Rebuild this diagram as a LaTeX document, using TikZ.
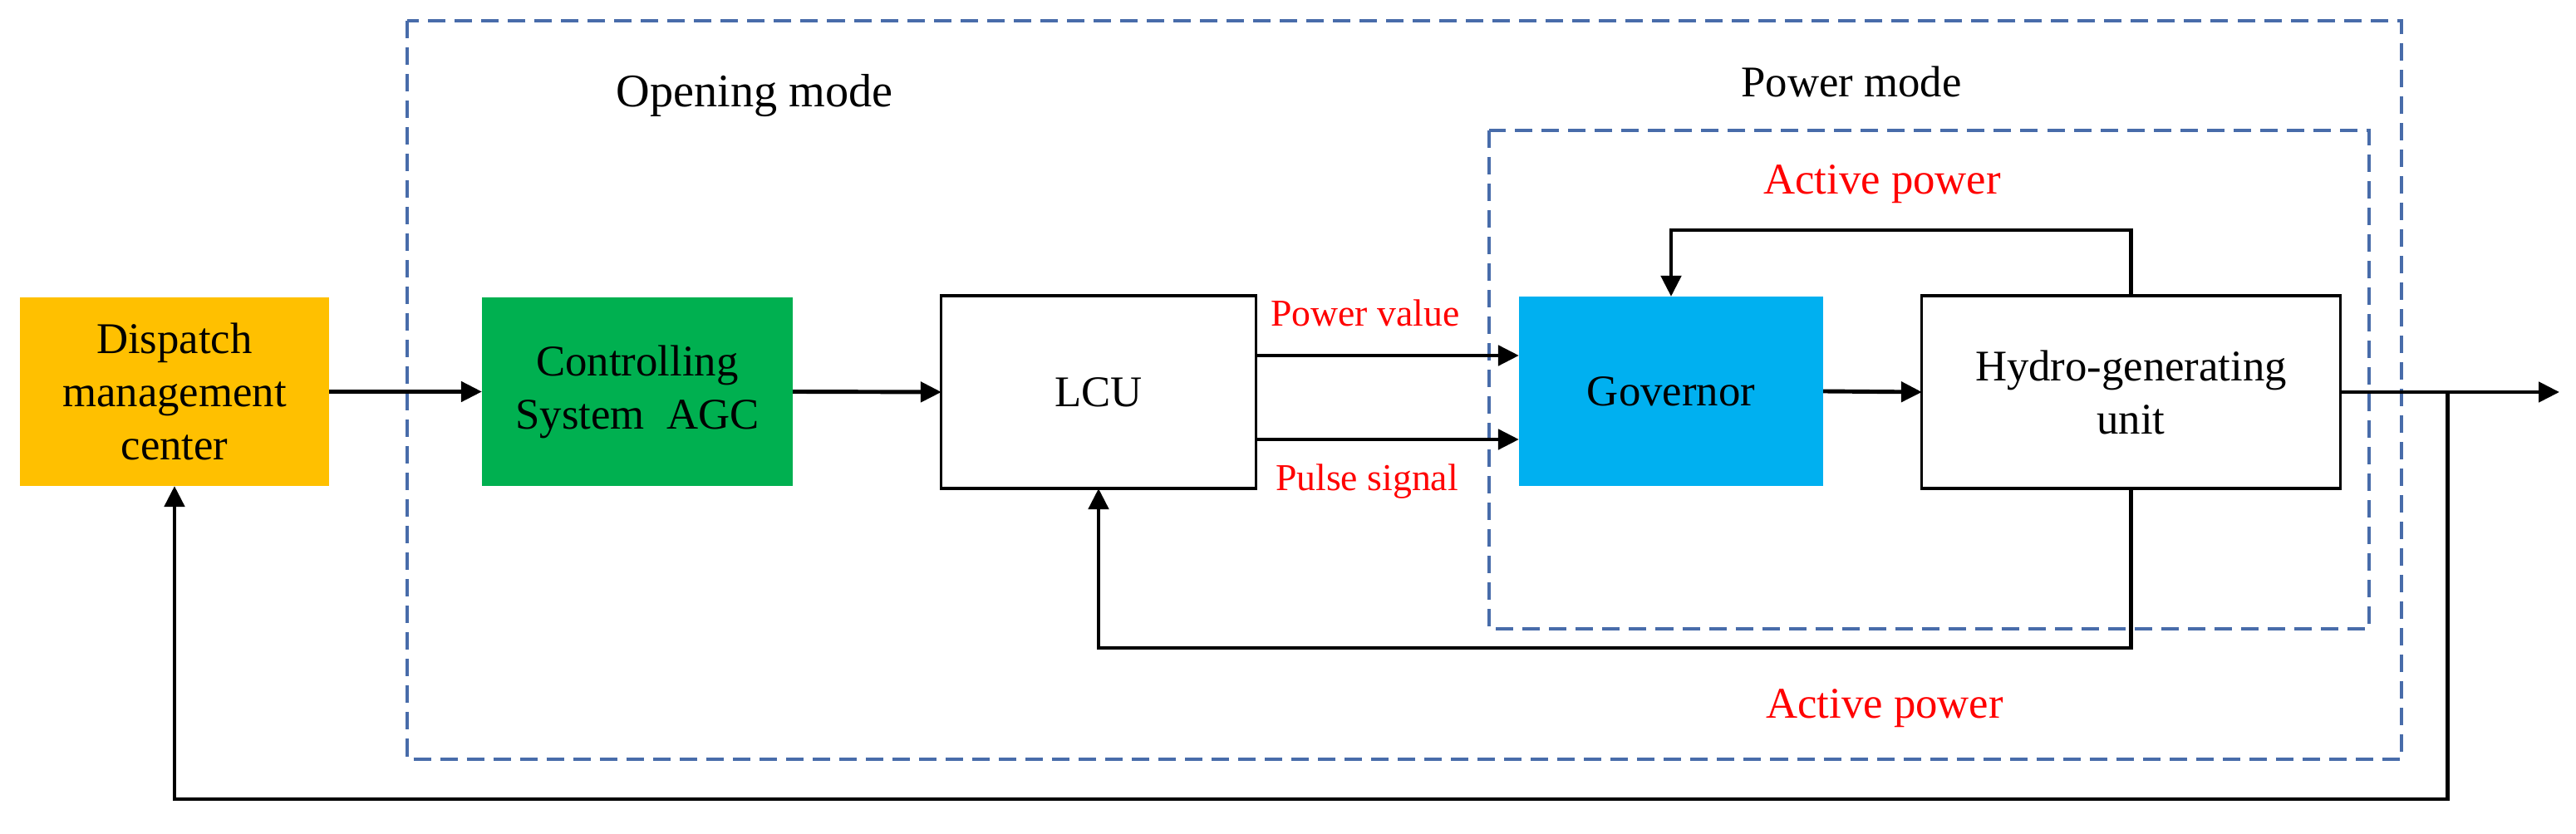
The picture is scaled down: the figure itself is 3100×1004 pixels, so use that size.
\documentclass[tikz,border=0pt]{standalone}
\usepackage{fontspec}
\setmainfont{Liberation Serif}
\usetikzlibrary{arrows.meta,calc}
\definecolor{dispatchc}{RGB}{255,192,0}
\definecolor{agcc}{RGB}{0,176,80}
\definecolor{govc}{RGB}{0,176,240}
\definecolor{dashblue}{RGB}{72,108,170}
\definecolor{redlab}{RGB}{255,0,0}
\tikzset{
  blk/.style={inner sep=0pt, outer sep=0pt, align=center, font=\fontsize{15}{18.2}\selectfont},
  wbox/.style={blk, draw=black, line width=0.9pt, fill=white},
  arr/.style={line width=1.4pt, -{Triangle[length=2.5mm,width=2.4mm]}},
  dbox/.style={draw=dashblue, line width=0.9pt, dash pattern=on 2.1mm off 1.1mm},
  redtxt/.style={text=redlab, inner sep=0pt},
  blktxt/.style={inner sep=0pt}
}
\begin{document}
\begin{tikzpicture}[x=0.01cm,y=-0.01cm]
\useasboundingbox (0,0) rectangle (3100,1004);
% dashed regions
\draw[dbox] (490,25) rectangle (2890,914);
\draw[dbox] (1792,157) rectangle (2851,757);
% blocks
\node[blk, fill=dispatchc, minimum width=3.72cm, minimum height=2.27cm] (dmc) at (210,471.5) {Dispatch\\management\\center};
\node[blk, fill=agcc, minimum width=3.74cm, minimum height=2.27cm] (agc) at (767,471.5) {Controlling\\System~~AGC};
\node[wbox, minimum width=3.78cm, minimum height=2.32cm] (lcu) at (1322,472) {LCU};
\node[blk, fill=govc, minimum width=3.66cm, minimum height=2.28cm] (gov) at (2011,471) {Governor};
\node[wbox, minimum width=5.03cm, minimum height=2.32cm] (hyd) at (2564.5,472) {Hydro-generating\\unit};
% coordinates
\coordinate (pv) at (0,428);
\coordinate (ps) at (0,529);
\coordinate (out) at (3080,472);
\coordinate (br) at (2945,472);
\coordinate (ytop) at (0,277);
\coordinate (ymid) at (0,780);
\coordinate (ybot) at (0,962);
% connectors
\draw[arr] (dmc.east) -- (agc.west);
\draw[arr] (agc.east) -- (lcu.west);
\draw[arr] (lcu.east |- pv) -- (gov.west |- pv);
\draw[arr] (lcu.east |- ps) -- (gov.west |- ps);
\draw[arr] (gov.east) -- (hyd.west);
\draw[arr] (hyd.east) -- (out);
\draw[arr] (hyd.north) -- (hyd.north |- ytop) -| (gov.north);
\draw[arr] (hyd.south) -- (hyd.south |- ymid) -| (lcu.south);
\draw[arr] (br) -- (br |- ybot) -| (dmc.south);
% labels
\node[blktxt, font=\fontsize{16}{19}\selectfont] (lopen) at (908,115) {Opening mode};
\node[blktxt, font=\fontsize{15}{18}\selectfont] (lpower) at (2228,98) {Power mode};
\node[redtxt, font=\fontsize{15}{18}\selectfont] (lact1) at (2265,222) {Active power};
\node[redtxt, font=\fontsize{15}{18}\selectfont] (lact2) at (2268,853) {Active power};
\node[redtxt, font=\fontsize{13}{16}\selectfont] (lpv) at (1643,377) {Power value};
\node[redtxt, font=\fontsize{13}{16}\selectfont] (lps) at (1645,580) {Pulse signal};
\end{tikzpicture}
\end{document}
